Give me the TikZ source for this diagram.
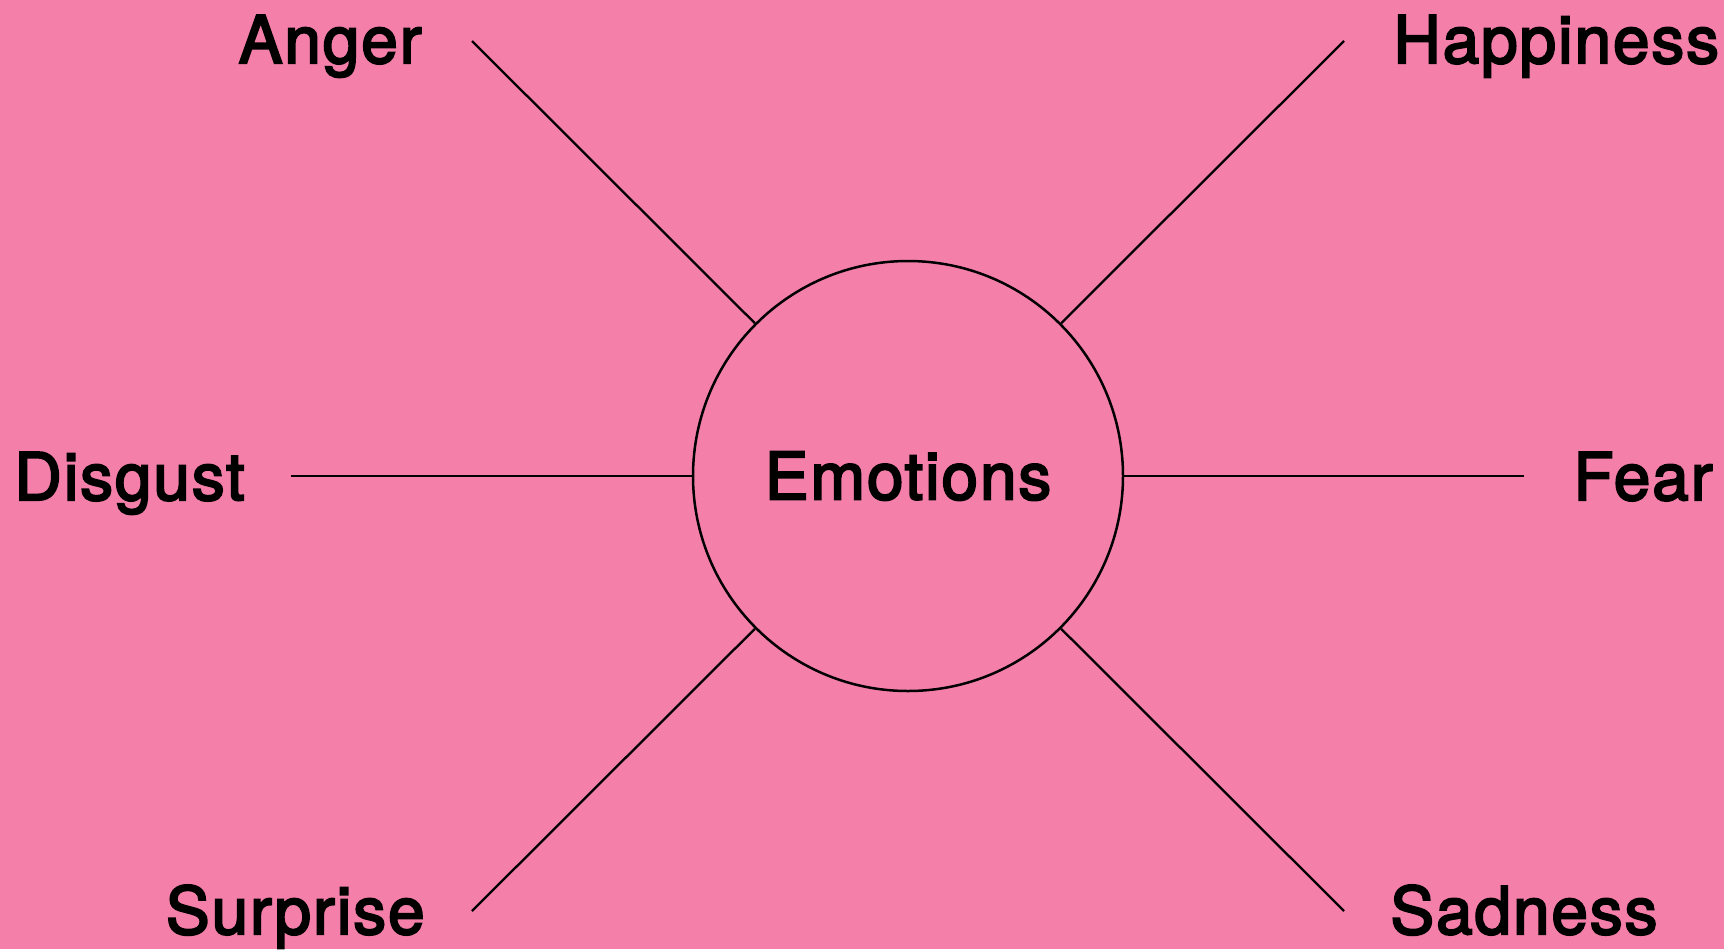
\documentclass[tikz,border=0pt]{standalone}
\usepackage{fontspec}
\newfontfamily\feelfont[FakeBold=3.2,LetterSpace=3]{TeX Gyre Heros}
\usetikzlibrary{positioning,calc}
\definecolor{ink}  {HTML}{000000}
\definecolor{blush}{HTML}{F47FA9}
\tikzset{
  % --- nodes
  hub/.style   = {circle, draw=ink, line width=1.25pt, inner sep=0pt,
                  minimum size=215pt, font=\feelfont\fontsize{32.8}{40}\selectfont},
  feel/.style  = {inner sep=0pt, text=ink, font=\feelfont\fontsize{32.8}{40}\selectfont},
  % --- edges
  spoke/.style = {draw=ink, line width=1.15pt},
}
\begin{document}
\begin{tikzpicture}[x=0.5pt,y=-0.5pt]
  \fill[blush] (0,0) rectangle (1724,949);
  \useasboundingbox (0,0) rectangle (1724,949);

  \node[hub] (emo) at (908,476) {Emotions};

  % free ends of the spokes
  \coordinate (tAnger)     at (472,41);
  \coordinate (tHappiness) at (1344,41);
  \coordinate (tDisgust)   at (291,476);
  \coordinate (tFear)      at (1524,476);
  \coordinate (tSurprise)  at (472,911);
  \coordinate (tSadness)   at (1344,911);

  \node[feel, anchor=base east] (anger)     at (422,63)   {Anger};
  \node[feel, anchor=base west] (happiness) at (1393,63)  {Happiness};
  \node[feel, anchor=base east] (disgust)   at (245,500)  {Disgust};
  \node[feel, anchor=base west] (fear)      at (1573,500) {Fear};
  \node[feel, anchor=base east] (surprise)  at (425,934)  {Surprise};
  \node[feel, anchor=base west] (sadness)   at (1390,934) {Sadness};

  \foreach \t in {tAnger,tHappiness,tDisgust,tFear,tSurprise,tSadness}
    \draw[spoke] (emo) -- (\t);
\end{tikzpicture}
\end{document}
